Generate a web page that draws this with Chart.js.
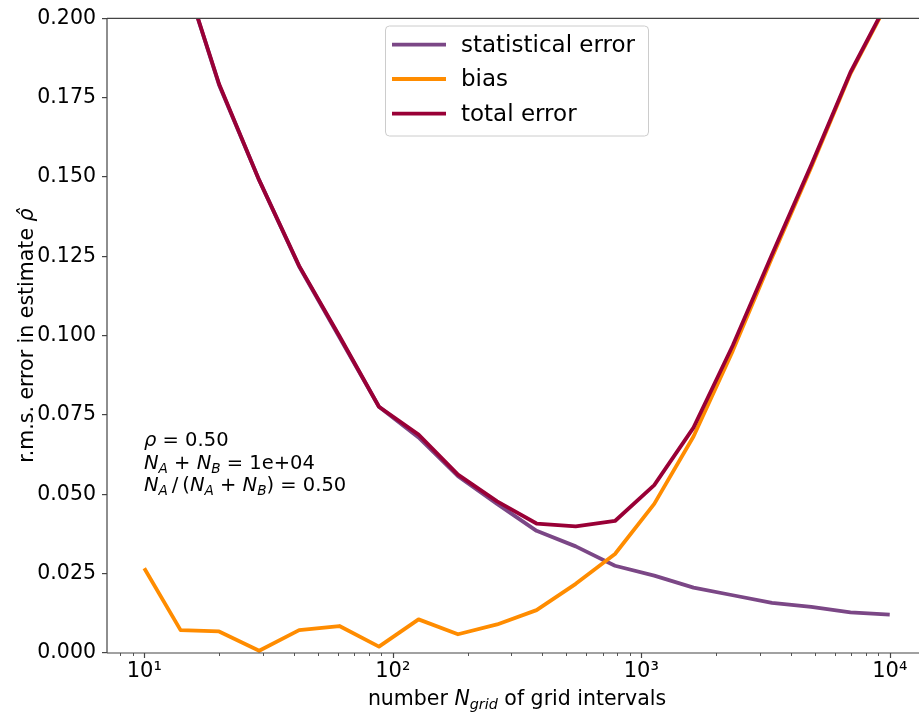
<!DOCTYPE html>
<html>
<head>
<meta charset="utf-8">
<script src="https://cdn.jsdelivr.net/npm/chart.js@4.4.0/dist/chart.umd.min.js"></script>
<style>
html, body { margin: 0; padding: 0; background: #fff; overflow: hidden; }
#wrap { width: 928px; height: 714px; }
</style>
</head>
<body>
<div id="wrap"><canvas id="rmsChart"></canvas></div>
<script>
// number of grid intervals (x values)
var nGrid = [10, 14, 20, 29, 42, 61, 88, 127, 183, 263, 379, 545, 784, 1128, 1623, 2335, 3359, 4832, 6951, 10000];

// r.m.s. errors
var statError  = [0.265, 0.217, 0.179, 0.149, 0.1218, 0.0995, 0.0776, 0.0679, 0.0557, 0.0470, 0.0385, 0.0336, 0.0275, 0.0244, 0.0206, 0.0182, 0.0158, 0.0145, 0.0128, 0.0121];
var biasError  = [0.0267, 0.0072, 0.0068, 0.0007, 0.0072, 0.0085, 0.0020, 0.0106, 0.0059, 0.0090, 0.0135, 0.0218, 0.0312, 0.0470, 0.0682, 0.0952, 0.1246, 0.1531, 0.1826, 0.2062];
var totalError = [0.266, 0.217, 0.1793, 0.149, 0.122, 0.0999, 0.0776, 0.0688, 0.0562, 0.0478, 0.0408, 0.0399, 0.0416, 0.0529, 0.0710, 0.0969, 0.1256, 0.1538, 0.1830, 0.2066];

var seriesLabels = ['statistical error', 'bias', 'total error'];
var seriesColors = ['#7b4786', '#ff8c00', '#990036'];

var yTicks = [0, 0.025, 0.05, 0.075, 0.1, 0.125, 0.15, 0.175, 0.2];
var xMajorTicks = [10, 100, 1000, 10000];
var xMajorLabels = ['10\u00b9', '10\u00b2', '10\u00b3', '10\u2074'];
var xMinorTicks = [8, 9, 20, 30, 40, 50, 60, 70, 80, 90, 200, 300, 400, 500, 600, 700, 800, 900,
                   2000, 3000, 4000, 5000, 6000, 7000, 8000, 9000];

var FONT = '"DejaVu Sans"';
var AXIS_COLOR = '#444';

function toPoints(ys) {
    return nGrid.map((n, i) => ({ x: n, y: ys[i] }));
}

// text made of regular / italic / subscript pieces
function segFont(s, size) {
    var st = s[1] || '';
    var sz = st.indexOf('s') >= 0 ? size * 0.7 : size;
    return (st.indexOf('i') >= 0 ? 'italic ' : '') + sz + 'px ' + FONT;
}
function richWidth(ctx, segs, size) {
    var w = 0;
    segs.forEach(s => {
        ctx.font = segFont(s, size);
        w += ctx.measureText(s[0]).width;
    });
    return w;
}
function drawRich(ctx, segs, x, y, size) {
    segs.forEach(s => {
        ctx.font = segFont(s, size);
        var dy = (s[1] || '').indexOf('s') >= 0 ? size * 0.21 : 0;
        ctx.fillText(s[0], x, y + dy);
        x += ctx.measureText(s[0]).width;
    });
}

const decorations = {
    id: 'decorations',
    afterDraw(chart) {
        const ctx = chart.ctx;
        const a = chart.chartArea;
        const xs = chart.scales.x;
        ctx.save();

        // spines
        ctx.strokeStyle = AXIS_COLOR;
        ctx.lineWidth = 1.2;
        ctx.beginPath();
        ctx.moveTo(a.left, a.bottom); ctx.lineTo(a.right, a.bottom);
        ctx.moveTo(a.left, a.top); ctx.lineTo(a.right, a.top);
        ctx.moveTo(a.left, a.top); ctx.lineTo(a.left, a.bottom);
        ctx.moveTo(a.right, a.top); ctx.lineTo(a.right, a.bottom);
        ctx.stroke();

        // x tick marks, major and minor
        ctx.beginPath();
        xMajorTicks.forEach(v => {
            var px = Math.round(xs.getPixelForValue(v)) + 0.5;
            ctx.moveTo(px, a.bottom); ctx.lineTo(px, a.bottom + 5);
        });
        ctx.stroke();
        ctx.lineWidth = 0.9;
        ctx.beginPath();
        xMinorTicks.forEach(v => {
            var px = Math.round(xs.getPixelForValue(v)) + 0.5;
            ctx.moveTo(px, a.bottom); ctx.lineTo(px, a.bottom + 3);
        });
        ctx.stroke();

        ctx.fillStyle = '#000';
        ctx.textBaseline = 'alphabetic';

        // x axis label
        var xl = [['number '], ['N', 'i'], ['grid', 'is'], [' of grid intervals']];
        var cx = (a.left + a.right) / 2;
        drawRich(ctx, xl, cx - richWidth(ctx, xl, 20.5) / 2, 705, 20.5);

        // y axis label
        var yl = [['r.m.s. error in estimate '], ['\u03c1\u0302', 'i']];
        ctx.save();
        ctx.translate(33, (a.top + a.bottom) / 2);
        ctx.rotate(-Math.PI / 2);
        drawRich(ctx, yl, -richWidth(ctx, yl, 20.5) / 2, 0, 20.5);
        ctx.restore();

        // parameter annotation
        var fs = 19.5;
        drawRich(ctx, [['\u03c1', 'i'], [' = 0.50']], 144, 446, fs);
        drawRich(ctx, [['N', 'i'], ['A', 'is'], [' + '], ['N', 'i'], ['B', 'is'], [' = 1e+04']], 144, 468.5, fs);
        drawRich(ctx, [['N', 'i'], ['A', 'is'], ['\u2009/\u2009('], ['N', 'i'], ['A', 'is'], [' + '],
                       ['N', 'i'], ['B', 'is'], [') = 0.50']], 144, 491, fs);

        // legend
        var lx = 385.5, ly = 26, lw = 263, lh = 110;
        ctx.beginPath();
        ctx.roundRect(lx, ly, lw, lh, 4);
        ctx.fillStyle = 'rgba(255,255,255,0.8)';
        ctx.fill();
        ctx.strokeStyle = '#cccccc';
        ctx.lineWidth = 1;
        ctx.stroke();
        var rows = [44.7, 79, 113.7];
        chart.data.datasets.forEach((ds, i) => {
            ctx.strokeStyle = ds.borderColor;
            ctx.lineWidth = 3.8;
            ctx.beginPath();
            ctx.moveTo(392, rows[i]); ctx.lineTo(446, rows[i]);
            ctx.stroke();
            ctx.fillStyle = '#000';
            ctx.font = '23px ' + FONT;
            ctx.textBaseline = 'middle';
            ctx.fillText(ds.label, 461, rows[i] + 1);
        });
        ctx.restore();
    }
};

const ctx = document.getElementById('rmsChart');
const rmsChart = new Chart(ctx, {
    type: 'line',
    data: {
        datasets: [
            { label: seriesLabels[0], data: toPoints(statError), borderColor: seriesColors[0], order: 3 },
            { label: seriesLabels[1], data: toPoints(biasError), borderColor: seriesColors[1], order: 2 },
            { label: seriesLabels[2], data: toPoints(totalError), borderColor: seriesColors[2], order: 1 }
        ]
    },
    options: {
        responsive: true,
        maintainAspectRatio: false,
        animation: false,
        devicePixelRatio: 1,
        layout: { padding: { top: 14, right: 1, left: 0, bottom: 0 } },
        elements: {
            line: { borderWidth: 3.8, tension: 0, fill: false, borderJoinStyle: 'round', borderCapStyle: 'butt' },
            point: { radius: 0, hoverRadius: 0 }
        },
        datasets: { line: { clip: 0 } },
        plugins: {
            legend: { display: false },
            tooltip: { enabled: false }
        },
        scales: {
            x: {
                type: 'logarithmic',
                min: Math.pow(10, 0.85),
                max: Math.pow(10, 4.15),
                afterFit: s => { s.height = 61; },
                afterBuildTicks: s => { s.ticks = xMajorTicks.map(v => ({ value: v })); },
                grid: { drawOnChartArea: false, color: 'rgba(0,0,0,0)', tickLength: 5 },
                border: { display: false },
                ticks: {
                    autoSkip: false,
                    maxRotation: 0,
                    padding: 1,
                    color: '#000',
                    font: { family: FONT, size: 21 },
                    callback: (v) => {
                        var k = xMajorTicks.indexOf(v);
                        return k >= 0 ? xMajorLabels[k] : '';
                    }
                }
            },
            y: {
                min: 0,
                max: 0.2,
                afterFit: s => { s.width = 107; },
                afterBuildTicks: s => { s.ticks = yTicks.map(v => ({ value: v })); },
                grid: { drawOnChartArea: false, color: AXIS_COLOR, lineWidth: 1.2, tickLength: 5 },
                border: { display: false },
                ticks: {
                    padding: 6,
                    color: '#000',
                    font: { family: FONT, size: 20.5 },
                    callback: (v) => v.toFixed(3)
                }
            }
        }
    },
    plugins: [decorations]
});
</script>
</body>
</html>
